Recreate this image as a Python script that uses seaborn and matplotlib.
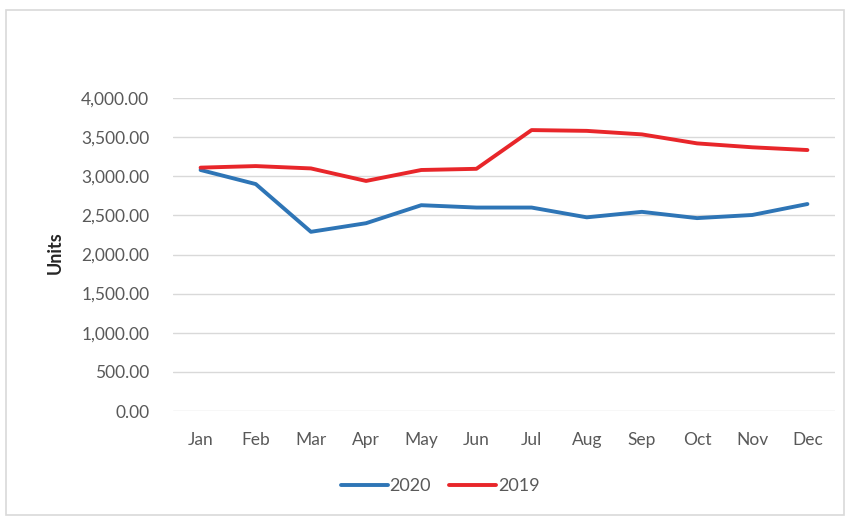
import matplotlib
matplotlib.use("Agg")
import matplotlib.pyplot as plt
import seaborn as sns
import pandas as pd
from matplotlib.ticker import FuncFormatter, MultipleLocator
from matplotlib.patches import Rectangle
from matplotlib.lines import Line2D

months = ["Jan", "Feb", "Mar", "Apr", "May", "Jun", "Jul", "Aug", "Sep", "Oct", "Nov", "Dec"]
units_2020 = [3080, 2900, 2290, 2400, 2630, 2600, 2600, 2475, 2545, 2465, 2505, 2645]
units_2019 = [3110, 3130, 3100, 2940, 3080, 3095, 3590, 3580, 3535, 3420, 3370, 3335]
series_names = ["2020", "2019"]
colors = {"2020": "#2E75B6", "2019": "#E8262A"}

df = pd.concat([
    pd.DataFrame({"Month": months, "Units": units_2020, "Series": series_names[0]}),
    pd.DataFrame({"Month": months, "Units": units_2019, "Series": series_names[1]}),
])
df["x"] = df["Month"].map({m: i for i, m in enumerate(months)})

sns.set_theme(style="white")
plt.rcParams["font.family"] = ["Lato", "DejaVu Sans"]

fig = plt.figure(figsize=(8.48, 5.17), dpi=100)
fig.patches.append(Rectangle((6/848, 2/517), 838/848, 505/517, transform=fig.transFigure,
                             fill=False, edgecolor="#D9D9D9", linewidth=1.2))
ax = fig.add_axes([173/848, 1 - 411/517, 662/848, 313/517])

sns.lineplot(data=df, x="x", y="Units", hue="Series", hue_order=series_names,
             palette=colors, linewidth=2.8, ax=ax, legend=False)

ax.set_xlim(-0.5, len(months) - 0.5)
ax.set_ylim(0, 4000)
ax.yaxis.set_major_locator(MultipleLocator(500))
ax.yaxis.set_major_formatter(FuncFormatter(lambda v, p: f"{v:,.2f}"))
ax.set_xticks(range(len(months)))
ax.set_xticklabels(months)
ax.grid(axis="y", color="#D9D9D9", linewidth=1)
ax.set_axisbelow(True)
for s in ax.spines.values():
    s.set_visible(False)
ax.tick_params(axis="both", length=0, labelsize=12.5, colors="#595959")
ax.tick_params(axis="y", pad=17)
ax.tick_params(axis="x", pad=15)
ax.set_xlabel("")
ax.set_ylabel("Units", fontsize=13, color="#262626", fontweight="bold")
ax.yaxis.set_label_coords(-0.165, 0.506)

handles = [Line2D([0], [0], color=colors[s], lw=2.8) for s in series_names]
fig.legend(handles, series_names, loc="center", bbox_to_anchor=(440/848, 1 - 486/517),
           ncol=2, frameon=False, fontsize=13, handlelength=2.6, handletextpad=0.1,
           columnspacing=1.0, labelcolor="#595959")

fig.savefig("out.png", dpi=100)
